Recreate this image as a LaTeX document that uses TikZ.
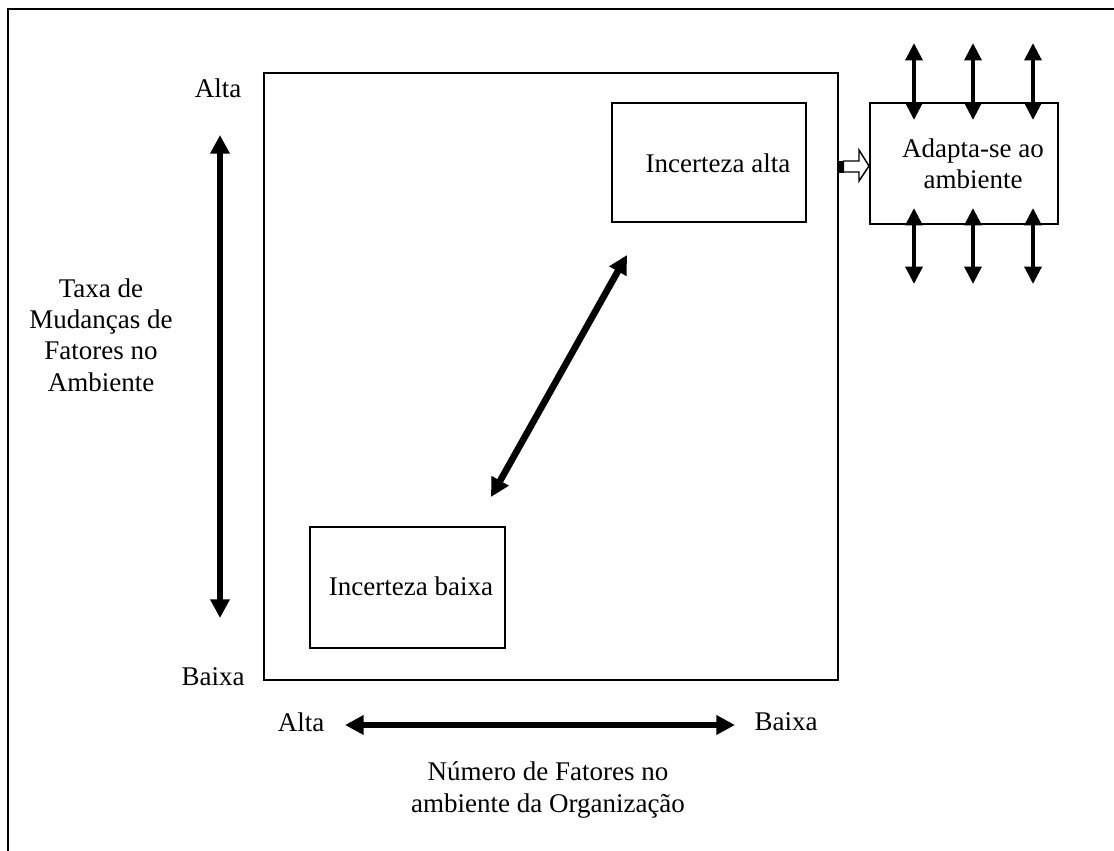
\documentclass[tikz,border=0pt]{standalone}
\usepackage{fontspec}
\setmainfont{Liberation Serif}
\usetikzlibrary{arrows.meta}
\begin{document}
\begin{tikzpicture}[x=0.75pt,y=-0.75pt,
  every node/.style={font=\fontsize{20.25}{23.6}\selectfont},
  box/.style={draw,line width=1.3pt,inner sep=0pt},
  lbl/.style={inner sep=0pt,align=center},
  bigarrow/.style={line width=5pt,{Triangle[length=14pt,width=14pt]}-{Triangle[length=14pt,width=14pt]}},
  smallarrow/.style={line width=3pt,{Triangle[length=13pt,width=12.5pt]}-{Triangle[length=13pt,width=12.5pt]}}]
\useasboundingbox (0,0) rectangle (1114,850);
\clip (0,0) rectangle (1114,850);
% outer frame
\draw[line width=1.5pt] (8,9) rectangle (1200,900);
% main area and the two uncertainty boxes
\node[box,minimum width=430.5pt,minimum height=455.25pt] (main) at (551,376.5) {};
\node[box,minimum width=145.5pt,minimum height=89.25pt] (alta) at (709,162.5) {};
\node[lbl] (altatxt) at (718,163) {Incerteza alta};
\node[box,minimum width=146.25pt,minimum height=90.75pt] (baixa) at (407.5,587.5) {};
\node[lbl] (baixatxt) at (411,586) {Incerteza baixa};
\node[box,minimum width=141pt,minimum height=90.75pt] (adapta) at (964,163.5) {};
\node[lbl] (adaptatxt) at (973,164) {Adapta-se ao\\ambiente};
% vertical axis
\node[lbl] (valta) at (218,88) {Alta};
\node[lbl] (vbaixa) at (213,677) {Baixa};
\coordinate (vtop) at (220,135);
\coordinate (vbot) at (220,618);
\draw[bigarrow] (vbot) -- (vtop);
\node[lbl] (vtxt) at (101,335) {Taxa de\\Mudanças de\\Fatores no\\Ambiente};
% horizontal axis
\node[lbl] (halta) at (301,722) {Alta};
\node[lbl] (hbaixa) at (786,722) {Baixa};
\coordinate (hl) at (345,725);
\coordinate (hr) at (735,725);
\draw[bigarrow] (hl) -- (hr);
\node[lbl] (htxt) at (548,790) {Número de Fatores no\\ambiente da Organização};
% diagonal link between the uncertainty levels
\coordinate (dlo) at (491,497);
\coordinate (dhi) at (627,255);
\draw[bigarrow] (dlo) -- (dhi);
% hollow arrow from the main area to the adaptation box
\fill (838,160.5) rectangle (843.5,172.5);
\draw[line width=1.1pt,fill=white] (843.5,161) -- (859,161) -- (859,150) -- (869,166) -- (859,181) -- (859,172) -- (843.5,172) -- cycle;
% arrows around the adaptation box
\foreach \x [count=\i] in {914,973,1033} {
  \coordinate (ut\i) at (\x,43);
  \coordinate (ub\i) at (\x,120);
  \coordinate (lt\i) at (\x,208);
  \coordinate (lb\i) at (\x,284);
  \draw[smallarrow] (ub\i) -- (ut\i);
  \draw[smallarrow] (lt\i) -- (lb\i);
}
\end{tikzpicture}
\end{document}
